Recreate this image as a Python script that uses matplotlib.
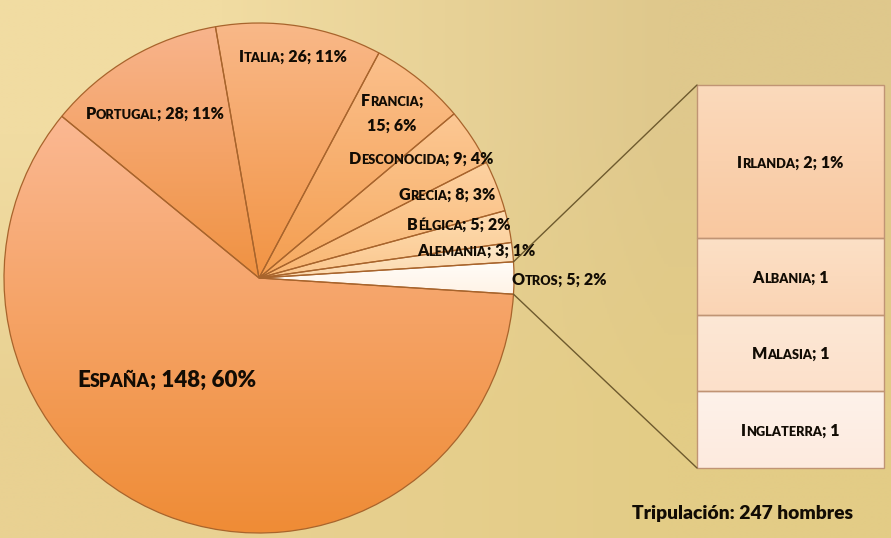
import numpy as np
import matplotlib
matplotlib.use("Agg")
import matplotlib.pyplot as plt
from matplotlib.colors import to_rgb
from matplotlib.patches import ConnectionPatch
from matplotlib.transforms import ScaledTranslation

# data
paises = ['Otros', 'Alemania', 'Bélgica', 'Grecia', 'Desconocida',
          'Francia', 'Italia', 'Portugal', 'España']
tripulantes = [5, 3, 5, 8, 9, 15, 26, 28, 148]
otros_paises = ['Irlanda', 'Albania', 'Malasia', 'Inglaterra']
otros_valores = [2, 1, 1, 1]
otros_textos = ['Irlanda; 2; 1%', 'Albania; 1', 'Malasia; 1', 'Inglaterra; 1']
total = sum(tripulantes)

# (top, bottom) gradient colours
pie_colors = [('#FFFDF9', '#FFF3E6'), ('#FEEBCF', '#FCD6A8'), ('#FEDDB2', '#FBC68C'),
              ('#FDD2A2', '#F9B672'), ('#FCC894', '#F7AA60'), ('#FBC08C', '#F49E50'),
              ('#F9B888', '#F29444'), ('#F8B48C', '#F09242'), ('#FBB892', '#EF8C36')]
bar_colors = [('#FBDABC', '#F9C8A0'), ('#FCE0C6', '#FAD4B4'),
              ('#FDE8D6', '#FCE0CA'), ('#FEF2EA', '#FDEADE')]

# label baselines in pixels from top
label_pos = {'España': (167, 387), 'Portugal': (155, 119), 'Italia': (293, 62),
             'Francia': (392, 106), 'Desconocida': (421, 164), 'Grecia': (447, 200),
             'Bélgica': (459, 230), 'Alemania': (476, 256), 'Otros': (559, 285)}

W, H = 891, 538
fig = plt.figure(figsize=(W / 100, H / 100), dpi=100)

# background
bg = fig.add_axes([0, 0, 1, 1], zorder=-2)
corners = np.array([[to_rgb('#F1DCA2'), to_rgb('#DFC88C')],
                    [to_rgb('#E9D192'), to_rgb('#E3CC86')]])
bg.imshow(corners, extent=[0, 1, 0, 1], aspect='auto', interpolation='bilinear')
bg.set_axis_off()

ax = fig.add_axes([0, 0, 1, 1])
ax.patch.set_alpha(0)


def gradient(top, bottom):
    g = np.linspace(0, 1, 64)[:, None, None]
    return (1 - g) * np.array(to_rgb(top)) + g * np.array(to_rgb(bottom))


cx, cy, R = 259, H - 278, 255
start = -tripulantes[0] / total * 180
wedges, _ = ax.pie(tripulantes, colors=[c[1] for c in pie_colors], startangle=start,
                   center=(cx, cy), radius=R, counterclock=True,
                   wedgeprops=dict(edgecolor='#A8642C', linewidth=0.9))
for w, (top, bottom) in zip(wedges, pie_colors):
    w.set_zorder(2)
    w.set_facecolor('none')
    ext = w.get_path().get_extents()
    im = ax.imshow(gradient(top, bottom), extent=[ext.x0, ext.x1, ext.y0, ext.y1],
                   aspect='auto', interpolation='bilinear', zorder=1)
    im.set_clip_path(w)

ax.set_xlim(0, W)
ax.set_ylim(0, H)
ax.set_aspect('auto')
ax.set_axis_off()

renderer = fig.canvas.get_renderer()
FONT = ['Lato', 'DejaVu Sans']
INK = '#120C04'


def small_caps(a, x, y, s, size):
    runs = []
    for ch in s:
        small = ch.islower()
        c = ch.upper() if small else ch
        if runs and runs[-1][1] == small:
            runs[-1][0] += c
        else:
            runs.append([c, small])
    texts = []
    for txt, small in runs:
        t = a.text(x, y, txt, fontsize=size * 0.8 if small else size, fontweight='heavy',
                   family=FONT, ha='left', va='baseline', color=INK, zorder=10)
        texts.append(t)
    widths = [t.get_window_extent(renderer).width for t in texts]
    off = -sum(widths) / 2
    for t, wd in zip(texts, widths):
        t.set_transform(a.transData + ScaledTranslation(off / 100, 0, fig.dpi_scale_trans))
        off += wd


for name, v in zip(paises, tripulantes):
    pct = round(v / total * 100)
    px, py = label_pos[name]
    size = 16 if name == 'España' else 11.5
    if name == 'Francia':
        small_caps(ax, px, H - py, f'{name};', size)
        small_caps(ax, px, H - py - 25, f'{v}; {pct}%', size)
    else:
        small_caps(ax, px, H - py, f'{name}; {v}; {pct}%', size)

# bar of the "Otros" slice
bax = fig.add_axes([697 / W, 70 / H, 187 / W, 383 / H])
bax.patch.set_alpha(0)
bottoms = np.cumsum([0] + otros_valores[::-1])[:-1]
bars = bax.bar(0, otros_valores[::-1], width=1, bottom=bottoms, color='none',
               edgecolor='#C09474', linewidth=1.0, zorder=2)
for b, (top, bottom) in zip(bars, bar_colors[::-1]):
    b.set_clip_on(False)
    x0, y0 = b.get_x(), b.get_y()
    bax.imshow(gradient(top, bottom), extent=[x0, x0 + b.get_width(), y0, y0 + b.get_height()],
               aspect='auto', interpolation='bilinear', zorder=1)
bax.set_xlim(-0.5, 0.5)
bax.set_ylim(0, sum(otros_valores))
bax.set_axis_off()

for b, txt in zip(bars, otros_textos[::-1]):
    small_caps(bax, 0, b.get_y() + b.get_height() / 2 - 0.08, txt, 11.5)

# connector lines
for ang, yb in [(start + tripulantes[0] / total * 360, sum(otros_valores)), (start, 0)]:
    xa = cx + R * np.cos(np.radians(ang))
    ya = cy + R * np.sin(np.radians(ang))
    con = ConnectionPatch(xyA=(xa, ya), coordsA=ax.transData, xyB=(-0.5, yb),
                          coordsB=bax.transData, color='#6E5A2E', linewidth=1.0)
    fig.add_artist(con)

fig.text(742 / W, 1 - 519 / H, 'Tripulación: 247 hombres', ha='center', va='baseline',
         fontsize=13.9, fontweight='heavy', family=FONT, color=INK)

fig.savefig('out.png', dpi=100)
